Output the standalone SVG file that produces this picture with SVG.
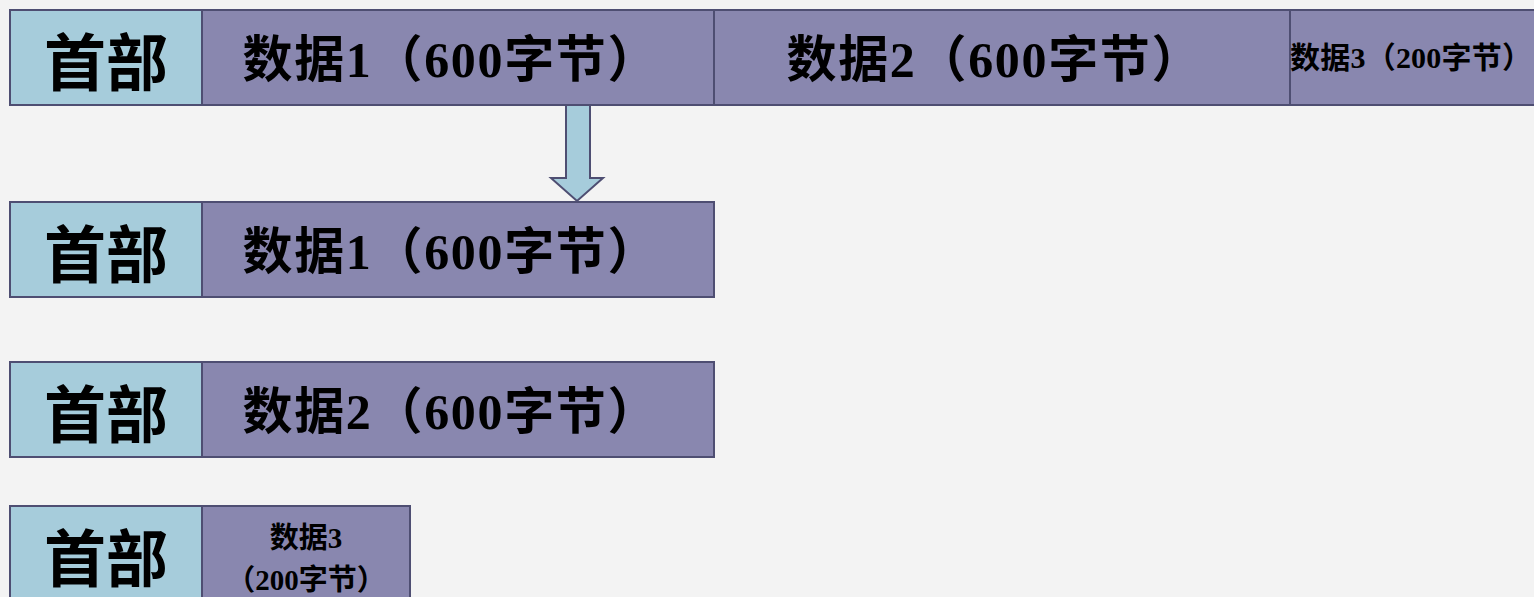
<svg xmlns="http://www.w3.org/2000/svg" width="1534" height="597" viewBox="0 0 1534 597">
<style>
.hdr{fill:#A6CCDB;stroke:#4E4E72;stroke-width:2}
.dat{fill:#8987AF;stroke:#4E4E72;stroke-width:2}
text{font-family:"Liberation Serif","Noto Sans CJK SC",serif;font-weight:bold;fill:#000;text-anchor:middle}
.h{font-size:62px}
.d{font-size:50px}
.s{font-size:30px}
.t{font-size:29px}
</style>
<rect x="0" y="0" width="1534" height="597" fill="#F3F3F3"/>
<g id="row1">
<g id="r1-header"><rect class="hdr" x="10" y="10" width="192" height="95"/><text class="h" x="106" y="86">首部</text></g>
<g id="r1-data1"><rect class="dat" x="202" y="10" width="512" height="95"/><text class="d" x="450" y="77" textLength="415" lengthAdjust="spacing">数据1（600字节）</text></g>
<g id="r1-data2"><rect class="dat" x="714" y="10" width="576" height="95"/><text class="d" x="994" y="77" textLength="415" lengthAdjust="spacing">数据2（600字节）</text></g>
<g id="r1-data3"><rect class="dat" x="1290" y="10" width="250" height="95"/><text class="s" x="1411" y="68" textLength="242" lengthAdjust="spacing">数据3（200字节）</text></g>
</g>
<g id="connectors">
<polygon points="566,105 590,105 590,178 603,178 577,201 551,178 566,178" fill="#A6CCDB" stroke="#4E4E72" stroke-width="2"/>
</g>
<g id="row2">
<g id="r2-header"><rect class="hdr" x="10" y="202" width="192" height="95"/><text class="h" x="106" y="278">首部</text></g>
<g id="r2-data1"><rect class="dat" x="202" y="202" width="512" height="95"/><text class="d" x="450" y="269" textLength="415" lengthAdjust="spacing">数据1（600字节）</text></g>
</g>
<g id="row3">
<g id="r3-header"><rect class="hdr" x="10" y="362" width="192" height="95"/><text class="h" x="106" y="438">首部</text></g>
<g id="r3-data2"><rect class="dat" x="202" y="362" width="512" height="95"/><text class="d" x="450" y="429" textLength="415" lengthAdjust="spacing">数据2（600字节）</text></g>
</g>
<g id="row4">
<g id="r4-header"><rect class="hdr" x="10" y="506" width="192" height="100"/><text class="h" x="106" y="582">首部</text></g>
<g id="r4-data3"><rect class="dat" x="202" y="506" width="208" height="100"/><text class="t" x="306" y="548">数据3</text><text class="t" x="306" y="590">（200字节）</text></g>
</g>
</svg>
